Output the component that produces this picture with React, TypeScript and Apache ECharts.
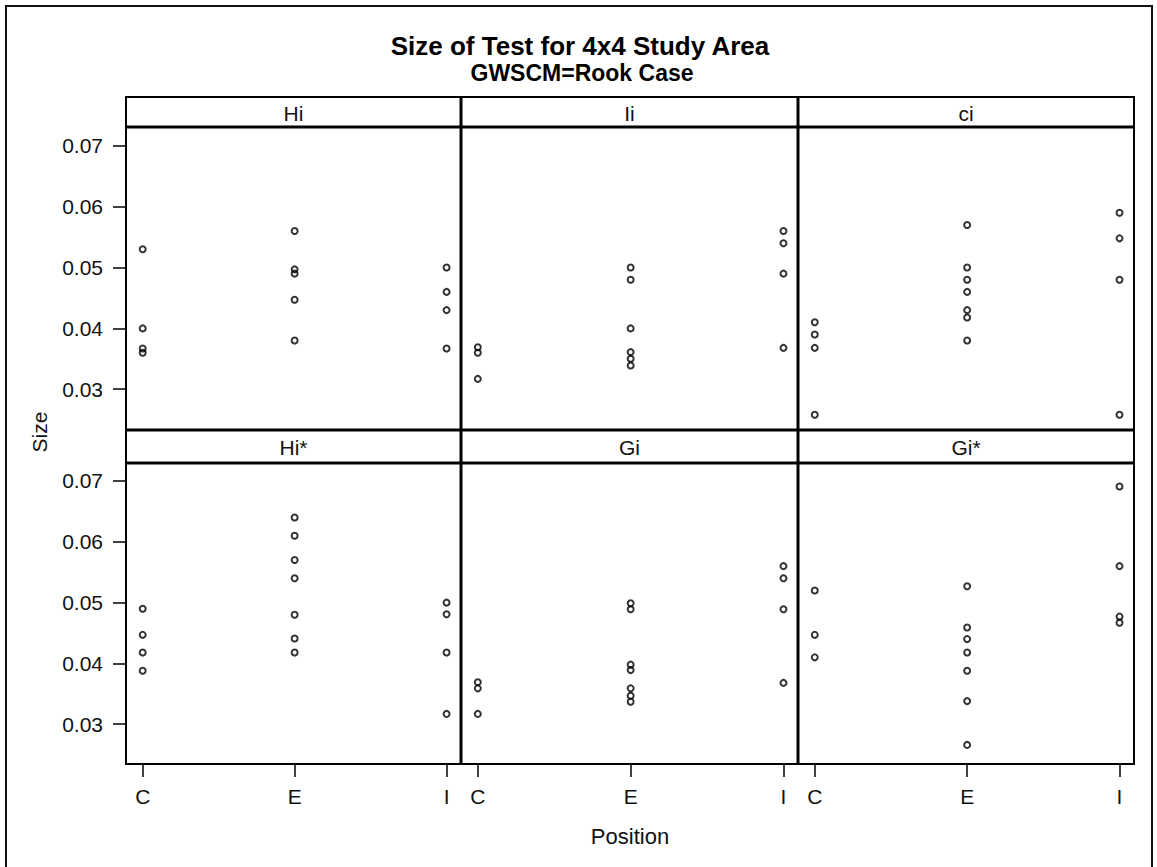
import React, { useEffect, useRef } from 'react';
import * as echarts from 'echarts';

// Category axis: position of the study cell
const positions = ['C', 'E', 'I'];
// Panel statistics, row by row
const statistics = ['Hi', 'Ii', 'ci', 'Hi*', 'Gi', 'Gi*'];
const sizeTicks = [0.03, 0.04, 0.05, 0.06, 0.07];

// Size of test values, grouped by position [C, E, I]
const sizeHi = [
  [0.053, 0.04, 0.0367, 0.036],
  [0.056, 0.0497, 0.049, 0.0447, 0.038],
  [0.05, 0.046, 0.043, 0.0367],
];
const sizeIi = [
  [0.0369, 0.036, 0.0317],
  [0.05, 0.048, 0.04, 0.0361, 0.035, 0.0339],
  [0.056, 0.054, 0.049, 0.0368],
];
const sizeCi = [
  [0.041, 0.039, 0.0368, 0.0258],
  [0.057, 0.05, 0.048, 0.046, 0.043, 0.0418, 0.038],
  [0.059, 0.0548, 0.048, 0.0258],
];
const sizeHiStar = [
  [0.049, 0.0447, 0.0418, 0.0388],
  [0.064, 0.061, 0.057, 0.054, 0.048, 0.0441, 0.0418],
  [0.05, 0.0481, 0.0418, 0.0317],
];
const sizeGi = [
  [0.0369, 0.0359, 0.0317],
  [0.0499, 0.0489, 0.0398, 0.0389, 0.0359, 0.0347, 0.0337],
  [0.056, 0.054, 0.0489, 0.0368],
];
const sizeGiStar = [
  [0.052, 0.0447, 0.041],
  [0.0527, 0.0459, 0.044, 0.0418, 0.0388, 0.0338, 0.0266],
  [0.0691, 0.056, 0.0477, 0.0467],
];

const panelSizes = [sizeHi, sizeIi, sizeCi, sizeHiStar, sizeGi, sizeGiStar];

// Layout of the 2 x 3 lattice
const FONT = '"Liberation Sans", Arial, sans-serif';
const colLeft = [126, 461, 798];
const colRight = [461, 798, 1134];
const headerTop = [97, 430];
const panelTop = [127, 463];
const panelBottom = [430, 764];
const yRange = [
  [0.0233, 0.0731],
  [0.02346, 0.07296],
];
const xRange = [-0.11, 2.095];

export default function App() {
  const ref = useRef<HTMLDivElement>(null);

  useEffect(() => {
    if (!ref.current) return;
    const chart = echarts.init(ref.current, null, { renderer: 'svg' });

    const grids: any[] = [];
    const xAxes: any[] = [];
    const yAxes: any[] = [];
    const series: any[] = [];

    statistics.forEach((stat, i) => {
      const row = Math.floor(i / 3);
      const col = i % 3;
      grids.push({
        left: colLeft[col],
        top: panelTop[row],
        width: colRight[col] - colLeft[col],
        height: panelBottom[row] - panelTop[row],
        show: false,
      });
      const showX = row === 1;
      xAxes.push({
        type: 'value',
        gridIndex: i,
        position: 'bottom',
        min: xRange[0],
        max: xRange[1],
        axisLine: { show: false, onZero: false },
        splitLine: { show: false },
        axisTick: {
          show: showX,
          customValues: [0, 1, 2],
          length: 13,
          lineStyle: { color: '#000', width: 1.5 },
        },
        axisLabel: {
          show: showX,
          customValues: [0, 1, 2],
          formatter: (v: number) => positions[Math.round(v)],
          color: '#111',
          fontFamily: FONT,
          fontSize: 21,
          margin: 22,
        },
      });
      const showY = col === 0;
      yAxes.push({
        type: 'value',
        gridIndex: i,
        position: 'left',
        min: yRange[row][0],
        max: yRange[row][1],
        axisLine: { show: false, onZero: false },
        splitLine: { show: false },
        axisTick: {
          show: showY,
          customValues: sizeTicks,
          length: 13,
          lineStyle: { color: '#000', width: 1.5 },
        },
        axisLabel: {
          show: showY,
          customValues: sizeTicks,
          formatter: (v: number) => v.toFixed(2),
          color: '#111',
          fontFamily: FONT,
          fontSize: 21,
          margin: 23,
        },
      });
      const data: number[][] = [];
      panelSizes[i].forEach((vals, p) => {
        vals.forEach((v) => data.push([p, v]));
      });
      series.push({
        type: 'scatter',
        name: stat,
        xAxisIndex: i,
        yAxisIndex: i,
        data,
        symbol: 'circle',
        symbolSize: 6,
        itemStyle: { color: 'rgba(0,0,0,0)', borderColor: '#000', borderWidth: 2 },
        silent: true,
      });
    });

    const graphic: any[] = [];
    // outer frame
    graphic.push({
      type: 'rect',
      shape: { x: 6, y: 6, width: 1146, height: 900 },
      style: { fill: 'none', stroke: '#111', lineWidth: 2 },
      z: 1,
    });
    // titles
    graphic.push({
      type: 'text',
      x: 580,
      y: 46,
      style: {
        text: 'Size of Test for 4x4 Study Area',
        font: `bold 26px ${FONT}`,
        fill: '#000',
        align: 'center',
        verticalAlign: 'middle',
      },
    });
    graphic.push({
      type: 'text',
      x: 582,
      y: 73,
      style: {
        text: 'GWSCM=Rook Case',
        font: `bold 23px ${FONT}`,
        fill: '#000',
        align: 'center',
        verticalAlign: 'middle',
      },
    });
    // axis titles
    graphic.push({
      type: 'text',
      x: 630,
      y: 836,
      style: {
        text: 'Position',
        font: `22px ${FONT}`,
        fill: '#111',
        align: 'center',
        verticalAlign: 'middle',
      },
    });
    graphic.push({
      type: 'text',
      x: 39,
      y: 432,
      rotation: Math.PI / 2,
      style: {
        text: 'Size',
        font: `21px ${FONT}`,
        fill: '#111',
        align: 'center',
        verticalAlign: 'middle',
      },
    });
    // panel header labels
    statistics.forEach((stat, i) => {
      const row = Math.floor(i / 3);
      const col = i % 3;
      graphic.push({
        type: 'text',
        x: (colLeft[col] + colRight[col]) / 2,
        y: (headerTop[row] + panelTop[row]) / 2 + 1,
        style: {
          text: stat,
          font: `21px ${FONT}`,
          fill: '#111',
          align: 'center',
          verticalAlign: 'middle',
        },
      });
    });
    // lattice lines
    const hLines: [number, number][] = [
      [97, 2],
      [127, 3],
      [430, 3],
      [463, 3],
      [764, 2],
    ];
    hLines.forEach(([y, w]) => {
      graphic.push({
        type: 'line',
        shape: { x1: 125, y1: y, x2: 1135, y2: y },
        style: { stroke: '#000', lineWidth: w },
        z: 10,
      });
    });
    const vLines: [number, number][] = [
      [126, 2],
      [461, 3],
      [798, 3],
      [1134, 2],
    ];
    vLines.forEach(([x, w]) => {
      graphic.push({
        type: 'line',
        shape: { x1: x, y1: 96, x2: x, y2: 765 },
        style: { stroke: '#000', lineWidth: w },
        z: 10,
      });
    });

    chart.setOption({
      animation: false,
      backgroundColor: '#fff',
      grid: grids,
      xAxis: xAxes,
      yAxis: yAxes,
      series,
      graphic,
    });

    return () => chart.dispose();
  }, []);

  return (
    <div
      ref={ref}
      style={{ position: 'absolute', left: 0, top: 0, width: 1157, height: 867 }}
    />
  );
}
